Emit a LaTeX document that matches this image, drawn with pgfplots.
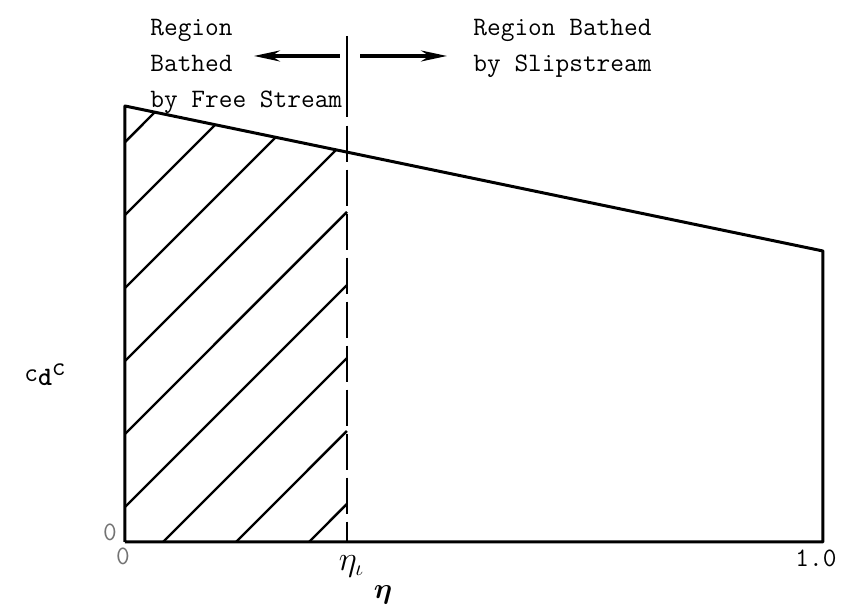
\documentclass[border=0pt]{standalone}
\usepackage{amsmath}
\usepackage{bm}
\usepackage{pgfplots}
\pgfplotsset{compat=1.18}
\usetikzlibrary{arrows.meta}
\begin{document}
\begin{tikzpicture}[tw/.style={inner sep=0pt, font=\fontsize{13.3}{16}\ttfamily\selectfont}]
\useasboundingbox (-62.5pt,-35.5pt) rectangle (359pt,271pt);
\begin{axis}[
  anchor=south west, at={(0pt,0pt)},
  scale only axis, width=349pt, height=252.88pt,
  xmin=0, xmax=1, ymin=0, ymax=1.16,
  hide axis, clip=false,
  every axis plot/.append style={black, no markers},
]
% outline
\addplot[line width=1.5pt, line join=round] coordinates {(0,0) (0,1.0) (1,0.6674) (1,0) (0,0)};
% hatching
\addplot[line width=1.2pt] coordinates {(0,0.917) (0.0427,0.9858)};
\addplot[line width=1.2pt] coordinates {(0,0.750) (0.1293,0.957)};
\addplot[line width=1.2pt] coordinates {(0,0.5826) (0.2159,0.9282)};
\addplot[line width=1.2pt] coordinates {(0,0.4151) (0.3025,0.8994)};
\addplot[line width=1.2pt] coordinates {(0,0.2477) (0.318,0.757)};
\addplot[line width=1.2pt] coordinates {(0,0.0803) (0.318,0.5894)};
\addplot[line width=1.2pt] coordinates {(0.0544,0) (0.318,0.422)};
\addplot[line width=1.2pt] coordinates {(0.159,0) (0.318,0.2546)};
\addplot[line width=1.2pt] coordinates {(0.2636,0) (0.318,0.0872)};
% boundary eta_i
\addplot[line width=1.3pt] coordinates {(0.318,1.161) (0.318,0.975)};
\addplot[line width=1.3pt, dash pattern=on 18pt off 4pt] coordinates {(0.318,0.955) (0.318,0)};
% arrows
\draw[line width=1.6pt, -{Stealth[length=13pt,width=5.5pt]}] (axis cs:0.308,1.1147) -- (axis cs:0.1848,1.1147);
\draw[line width=1.6pt, -{Stealth[length=13pt,width=5.5pt]}] (axis cs:0.3367,1.1147) -- (axis cs:0.4613,1.1147);
% texts
\node[tw, anchor=base west] at (axis cs:0.0358,1.1628) {Region};
\node[tw, anchor=base west] at (axis cs:0.0358,1.078) {Bathed};
\node[tw, anchor=base west] at (axis cs:0.0358,0.9954) {by Free Stream};
\node[tw, anchor=base west] at (axis cs:0.4986,1.1628) {Region Bathed};
\node[tw, anchor=base west] at (axis cs:0.4986,1.078) {by Slipstream};
\node[tw] at (axis cs:0.990,-0.0367) {1.0};
\node[tw, text=black!55] at (axis cs:-0.0215,0.0229) {0};
\node[tw, text=black!55] at (axis cs:-0.0029,-0.0321) {0};
\node[tw] at (axis cs:-0.1146,0.383) {c\raisebox{-2pt}{\textbf{d}}\raisebox{3pt}{c}};
\node[inner sep=0pt] at (axis cs:0.3245,-0.055) {\fontsize{16}{18}\selectfont$\eta_{\iota}$};
\node[inner sep=0pt] at (axis cs:0.3696,-0.1216) {\fontsize{14}{16}\selectfont$\bm{\eta}$};
\end{axis}
\end{tikzpicture}
\end{document}
